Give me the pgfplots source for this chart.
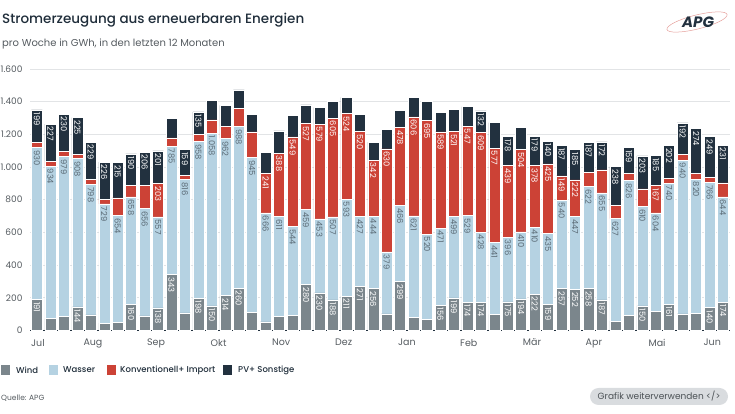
\documentclass[border=0pt]{standalone}
\usepackage{fontspec}
\setmainfont{Poppins}
\newfontfamily\medfont{Poppins Medium}
\usepackage{pgfplots}
\usepackage{pgfplotstable}
\pgfplotsset{compat=1.18}
\definecolor{cwind}{HTML}{7B868C}
\definecolor{cwasser}{HTML}{B5D2E2}
\definecolor{ckonv}{HTML}{CC4236}
\definecolor{cpv}{HTML}{22313F}
\definecolor{ctitle}{HTML}{1F2D3A}
\definecolor{csub}{HTML}{555B60}
\definecolor{cgrid}{HTML}{E2E4E6}
\definecolor{cwlab}{HTML}{5A6A75}
\definecolor{cbtn}{HTML}{D9DCDF}

\pgfplotstableread{
x  w   wa   k   p   fw fwa fk fp
0  191 930  30  199 1 1 0 1
1  72  934  30  227 0 1 0 1
2  85  979  30  230 0 1 0 1
3  144 908  25  225 1 1 0 1
4  95  798  30  229 0 1 0 1
5  45  729  30  226 0 1 0 1
6  50  654  108 215 0 1 0 1
7  160 658  72  190 1 1 0 1
8  90  656  140 206 0 1 0 1
9  138 557  203 201 1 1 1 1
10 343 785  50  120 1 1 0 0
11 108 816  25  159 0 1 0 1
12 198 958  46  135 1 1 0 1
13 150 1058 80  118 1 1 0 0
14 214 962  75  127 1 1 0 0
15 260 988  109 116 1 1 0 0
16 112 945  158 106 0 1 0 0
17 53  666  241 132 0 1 1 0
18 86  611  388 136 0 1 1 0
19 92  544  549 130 0 1 1 0
20 280 459  527 114 1 1 1 0
21 230 453  579 103 1 1 1 0
22 188 507  605 100 1 1 1 0
23 211 593  524 99  1 1 1 0
24 271 427  520 105 1 1 1 0
25 256 444  342 111 1 1 1 0
26 102 379  630 120 0 1 1 0
27 299 466  478 104 1 1 1 0
28 80  621  606 118 0 1 1 0
29 69  520  695 118 0 1 1 0
30 156 471  589 119 1 1 1 0
31 199 499  521 134 1 1 1 0
32 174 529  547 120 1 1 1 0
33 174 428  609 132 1 1 1 1
34 98  441  577 156 0 1 1 0
35 175 396  439 178 1 1 1 1
36 194 410  504 133 1 1 1 0
37 222 410  378 179 1 1 1 1
38 159 435  425 140 1 1 1 1
39 257 540  149 187 1 1 1 1
40 252 447  222 185 1 1 1 1
41 258 622  86  187 1 1 0 1
42 187 655  140 172 1 1 0 1
43 57  627  80  238 0 1 0 1
44 92  826  44  159 0 1 0 1
45 150 610  106 203 1 1 0 1
46 115 604  167 185 0 1 1 1
47 161 740  30  202 1 1 0 1
48 102 940  36  192 0 1 0 1
49 106 820  36  274 0 1 0 1
50 140 766  31  249 1 1 0 1
51 174 644  85  231 1 1 0 1
}\data

\pgfplotsset{
  seg/.style={
    fill=#1, draw=white, line width=0.5pt,
    point meta=explicit,
    nodes near coords={\pgfmathfloatifflags{\pgfplotspointmeta}{0}{}{\pgfmathprintnumber{\pgfplotspointmeta}}},
    nodes near coords align={west},
  },
  lab/.style={
    every node near coord/.style={yshift=\segh pt, rotate=-90, anchor=west, inner sep=2.5pt,
      font=\fontsize{8.3}{9}\selectfont, text=#1},
  },
}

\begin{document}
\begin{tikzpicture}
\path[use as bounding box] (0pt,0pt) rectangle (735pt,414pt);

\node[anchor=west, inner sep=0pt, text=ctitle, font=\medfont\fontsize{13.5}{15}\selectfont] at (2pt,394pt) {Stromerzeugung aus erneuerbaren Energien};
\node[anchor=west, inner sep=0pt, text=csub, font=\fontsize{10}{12}\selectfont] at (2pt,370pt) {pro Woche in GWh, in den letzten 12 Monaten};

% logo
\draw[ckonv!50, line width=0.5pt, rotate around={14:(697pt,392pt)}] (697pt,392pt) ellipse (31pt and 7pt);
\node[inner sep=0pt, text=cpv, font=\bfseries\itshape\fontsize{15}{16}\selectfont] at (698pt,392pt) {APG};

\begin{axis}[
  at={(30pt,83.5pt)}, anchor=south west,
  scale only axis, width=700pt, height=261.5pt,
  ybar stacked, bar width=11pt,
  xmin=-0.52, xmax=51.52, ymin=0, ymax=1600,
  ytick={0,200,...,1600},
  ymajorgrids, grid style={cgrid, line width=0.8pt},
  extra y ticks={0}, extra y tick labels={},
  extra y tick style={grid style={cpv, line width=1.2pt}},
  axis line style={draw=none},
  tick style={draw=none},
  xtick={0.07,4.16,8.85,13.5,18.15,22.8,27.5,32.1,36.8,41.4,46.1,50.2},
  xticklabels={Jul,Aug,Sep,Okt,Nov,Dez,Jan,Feb,Mär,Apr,Mai,Jun},
  xticklabel style={font=\fontsize{9.5}{10}\selectfont, text=csub, yshift=-5pt},
  yticklabel style={font=\fontsize{9}{10}\selectfont, text=csub, xshift=-4pt},
  /pgf/number format/1000 sep={.},
  /pgf/number format/assume math mode=true,
]
\addplot[seg=cwind, visualization depends on={\thisrow{w}*0.08172 \as \segh}, lab=white]
  table[x=x, y=w, meta expr=\thisrow{w}*\thisrow{fw}]{\data};
\addplot[seg=cwasser, visualization depends on={\thisrow{wa}*0.08172 \as \segh}, lab=cwlab]
  table[x=x, y=wa, meta expr=\thisrow{wa}*\thisrow{fwa}]{\data};
\addplot[seg=ckonv, visualization depends on={\thisrow{k}*0.08172 \as \segh}, lab=white]
  table[x=x, y=k, meta expr=\thisrow{k}*\thisrow{fk}]{\data};
\addplot[seg=cpv, visualization depends on={\thisrow{p}*0.08172 \as \segh}, lab=white]
  table[x=x, y=p, meta expr=\thisrow{p}*\thisrow{fp}]{\data};
\end{axis}

% legend
\begin{scope}[font=\medfont\fontsize{8.5}{9}\selectfont, text=ctitle]
\fill[cwind] (1pt,39pt) rectangle (10pt,49pt);
\node[anchor=west, inner sep=0pt] at (16pt,44pt) {Wind};
\fill[cwasser] (49pt,39pt) rectangle (58pt,49pt);
\node[anchor=west, inner sep=0pt] at (63pt,44pt) {Wasser};
\fill[ckonv] (107pt,39pt) rectangle (116pt,49pt);
\node[anchor=west, inner sep=0pt] at (120pt,44pt) {Konventionell+ Import};
\fill[cpv] (223pt,39pt) rectangle (232pt,49pt);
\node[anchor=west, inner sep=0pt] at (238pt,44pt) {PV+ Sonstige};
\end{scope}

\node[anchor=west, inner sep=0pt, text=csub, font=\fontsize{7.5}{8}\selectfont] at (1pt,16pt) {Quelle: APG};

\fill[cbtn, rounded corners=8.5pt] (590pt,9pt) rectangle (728pt,26pt);
\node[text=csub!90!black, font=\fontsize{9}{10}\selectfont] at (659pt,17.5pt) {Grafik weiterverwenden </>};
\end{tikzpicture}
\end{document}
